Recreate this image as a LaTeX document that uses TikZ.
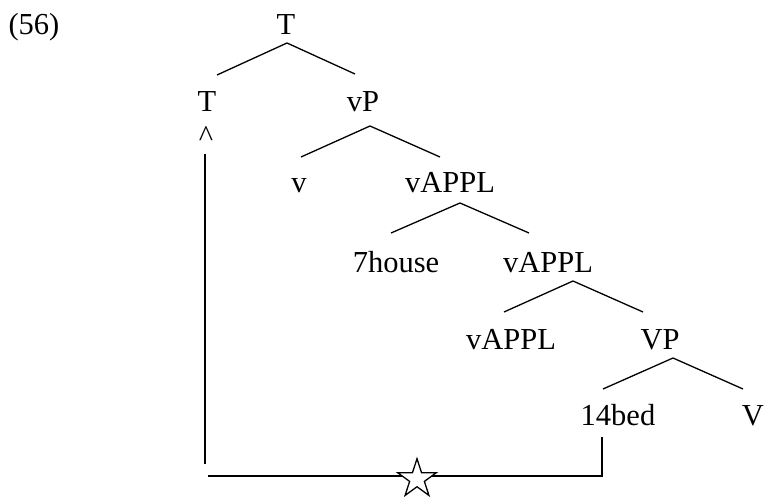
\documentclass[tikz,border=0pt]{standalone}
\usepackage{fontspec}
\setmainfont{Liberation Serif}
\usetikzlibrary{shapes.geometric}
\tikzset{
  lbl/.style={anchor=base, inner sep=0pt, font=\fontsize{30.5}{36}\selectfont},
  branch/.style={line width=1.3pt, line cap=butt, line join=miter},
  mark star/.style={star, star points=5, star point ratio=2.618, draw, line width=1.3pt,
    fill=white, minimum size=40.6pt, inner sep=0pt}
}
\begin{document}
\begin{tikzpicture}[x=1pt, y=-1pt]
  \useasboundingbox (0,0) rectangle (765,497);

  % example number
  \node[lbl] (num) at (34,35) {(56)};

  % tree labels
  \node[lbl] (tTop)   at (286,35)  {T};
  \node[lbl] (tHead)  at (207,112) {T};
  \node[lbl] (vP)     at (363,112) {vP};
  \node[lbl] (caret)  at (206,147) {\textasciicircum};
  \node[lbl] (v)      at (299,193) {v};
  \node[lbl] (appA)   at (450,193) {vAPPL};
  \node[lbl] (house)  at (396,272) {7house};
  \node[lbl] (appB)   at (548,272) {vAPPL};
  \node[lbl] (appC)   at (511,349) {vAPPL};
  \node[lbl] (VP)     at (660,349) {VP};
  \node[lbl] (bed)    at (618,425) {14bed};
  \node[lbl] (V)      at (753,425) {V};

  % branch points
  \coordinate (tTop-a) at (287,43);
  \coordinate (tTop-l) at (217,75);
  \coordinate (tTop-r) at (355,74);
  \coordinate (vP-a) at (370,126);
  \coordinate (vP-l) at (301,157);
  \coordinate (vP-r) at (440,157);
  \coordinate (appA-a) at (460,203);
  \coordinate (appA-l) at (391,233);
  \coordinate (appA-r) at (529,233);
  \coordinate (appB-a) at (573,281);
  \coordinate (appB-l) at (504,312);
  \coordinate (appB-r) at (643,312);
  \coordinate (VP-a) at (673,358);
  \coordinate (VP-l) at (603,389);
  \coordinate (VP-r) at (743,389);

  \draw[branch] (tTop-l) -- (tTop-a) -- (tTop-r);
  \draw[branch] (vP-l) -- (vP-a) -- (vP-r);
  \draw[branch] (appA-l) -- (appA-a) -- (appA-r);
  \draw[branch] (appB-l) -- (appB-a) -- (appB-r);
  \draw[branch] (VP-l) -- (VP-a) -- (VP-r);

  % movement path from 14bed to T
  \coordinate (upTop) at (205,154);
  \coordinate (upBot) at (205,464);
  \coordinate (baseL) at (208,476);
  \coordinate (baseR) at (602,476);
  \coordinate (bedFoot) at (602,437);
  \draw[branch] (upTop) -- (upBot);
  \draw[branch] (baseL) -- (baseR) -- (bedFoot);
  \node[mark star] (blocked) at (417,479) {};
\end{tikzpicture}
\end{document}
